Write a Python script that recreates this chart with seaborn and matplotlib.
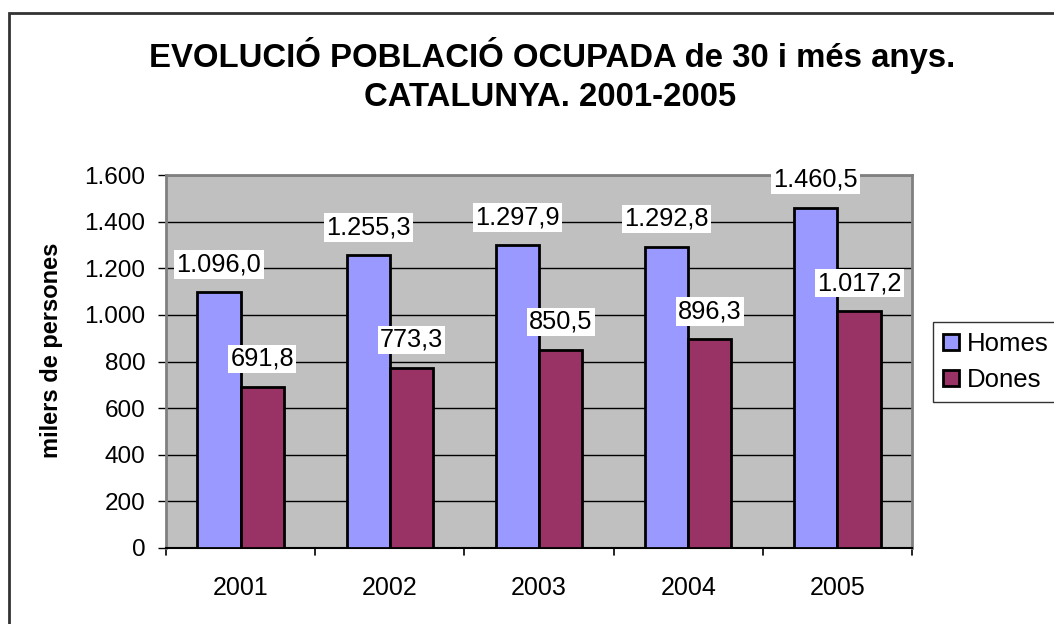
import matplotlib
matplotlib.use("Agg")
import matplotlib.pyplot as plt
import seaborn as sns
import pandas as pd
from matplotlib.patches import Rectangle

years = ["2001", "2002", "2003", "2004", "2005"]
homes = [1096.0, 1255.3, 1297.9, 1292.8, 1460.5]
dones = [691.8, 773.3, 850.5, 896.3, 1017.2]
series = ["Homes", "Dones"]
colors = ["#9999FF", "#993366"]
yticks = [0, 200, 400, 600, 800, 1000, 1200, 1400, 1600]

sns.set_style("white")
plt.rcParams["font.family"] = ["Liberation Sans", "DejaVu Sans"]
plt.rcParams["text.color"] = "black"
plt.rcParams["axes.labelcolor"] = "black"
plt.rcParams["xtick.color"] = "black"
plt.rcParams["ytick.color"] = "black"

df = pd.DataFrame({
    "any": years * 2,
    "valor": homes + dones,
    "serie": ["Homes"] * len(years) + ["Dones"] * len(years),
})

def fmt(v, dec=1):
    s = f"{v:,.{dec}f}"
    return s.replace(",", "X").replace(".", ",").replace("X", ".")

fig = plt.figure(figsize=(10.54, 6.24), dpi=100)
ax = fig.add_axes([166/1054, 1-548/624, (912-166)/1054, (548-175)/624])
ax.set_facecolor("#C0C0C0")

sns.barplot(data=df, x="any", y="valor", hue="serie", hue_order=series,
            palette=colors, width=0.58, gap=0, edgecolor="black",
            linewidth=2, saturation=1, ax=ax, legend=False, zorder=3)

ax.set_ylim(0, 1600)
ax.set_xlim(-0.5, 4.5)
ax.set_yticks(yticks)
ax.set_yticklabels([fmt(t, 0) for t in yticks], fontsize=17.5)
ax.yaxis.grid(True, color="black", linewidth=1)
ax.set_axisbelow(True)
ax.set_xticks(range(len(years)))
ax.set_xticklabels(years, fontsize=18)
ax.tick_params(axis="x", length=0, pad=20)
ax.tick_params(axis="y", length=6, width=1, color="black", direction="out", pad=9, left=True)
for xb in [-0.5, 0.5, 1.5, 2.5, 3.5, 4.5]:
    ax.plot([xb, xb], [0, -0.018], transform=ax.get_xaxis_transform(),
            color="black", lw=1.2, clip_on=False)

for side in ["left", "top", "right"]:
    ax.spines[side].set_color("#808080")
    ax.spines[side].set_linewidth(2)
    ax.spines[side].set_visible(True)
ax.spines["bottom"].set_color("black")
ax.spines["bottom"].set_linewidth(1.5)
ax.spines["bottom"].set_visible(True)

ax.set_xlabel("")
ax.set_ylabel("milers de persones", fontsize=17, fontweight="bold")
ax.yaxis.set_label_coords(-0.138, 0.53)

for container, vals in zip(ax.containers, [homes, dones]):
    for bar, v in zip(container, vals):
        cx = bar.get_x() + bar.get_width() / 2
        ax.annotate(fmt(v), xy=(cx, v), xytext=(0, 20), textcoords="offset points",
                    ha="center", va="center", fontsize=18.3, zorder=6,
                    bbox=dict(boxstyle="square,pad=0.09", fc="white", ec="none"))

fig.text(0.5235, 1-55/624, "EVOLUCIÓ POBLACIÓ OCUPADA de 30 i més anys.",
         ha="center", va="center", fontsize=23.7, fontweight="bold")
fig.text(0.5215, 1-97/624, "CATALUNYA. 2001-2005",
         ha="center", va="center", fontsize=23.7, fontweight="bold")

handles = [Rectangle((0, 0), 1, 1, fc=c, ec="black", lw=2) for c in colors]
leg = fig.legend(handles, series, loc="upper left",
                 bbox_to_anchor=(933/1054, 1-322/624), fontsize=18.5,
                 frameon=True, fancybox=False, handlelength=0.6, handleheight=0.6,
                 handletextpad=0.3, borderpad=0.4, labelspacing=0.45,
                 borderaxespad=0)
leg.get_frame().set_edgecolor("black")
leg.get_frame().set_linewidth(1)

fig.patches.append(Rectangle((8.5/1054, -0.05), 1.1, 1-12.5/624+0.05,
                             transform=fig.transFigure, fill=False,
                             ec="#333333", lw=2))

fig.savefig("out.png", dpi=100)
